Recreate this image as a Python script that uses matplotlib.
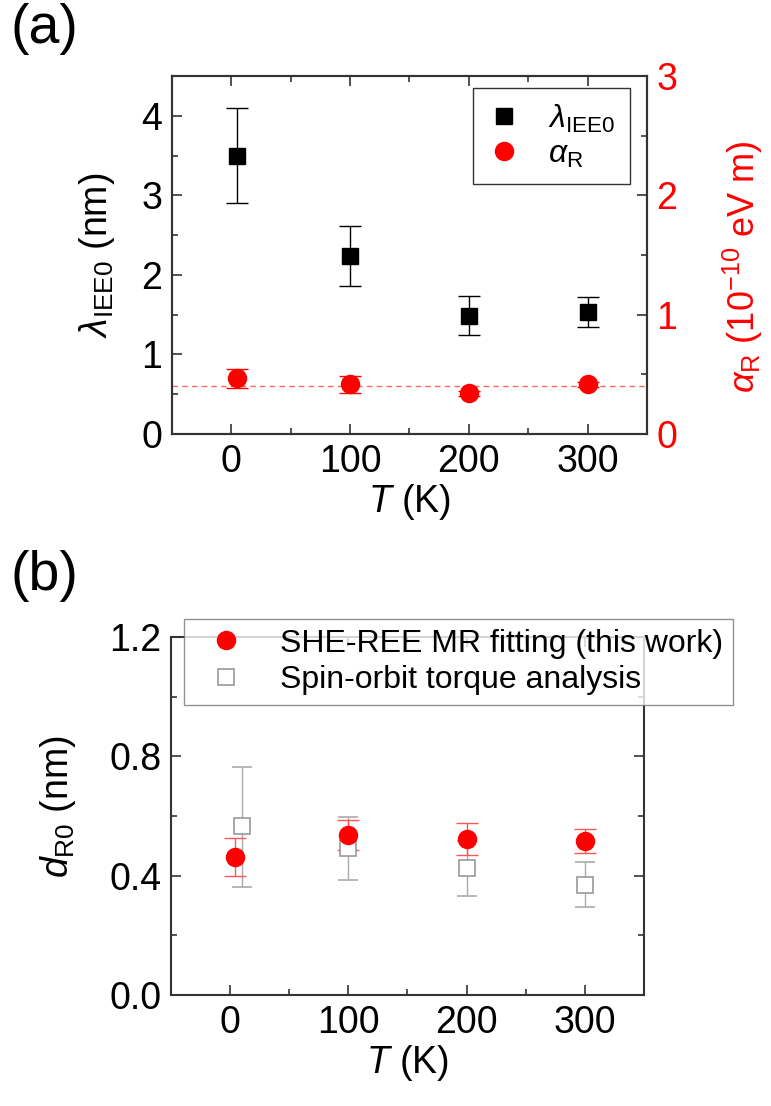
import numpy as np
import matplotlib
matplotlib.use("Agg")
import matplotlib.pyplot as plt
import matplotlib.ticker as mticker

plt.rcParams["font.family"] = ["Liberation Sans", "DejaVu Sans"]
plt.rcParams["mathtext.fontset"] = "custom"
plt.rcParams["mathtext.rm"] = "Liberation Sans"
plt.rcParams["mathtext.it"] = "Liberation Sans:italic"

# ---- panel (a) data ----
T_lam = [5, 100, 200, 300]
lam = [3.50, 2.24, 1.48, 1.53]
lam_err_hi = [0.60, 0.38, 0.25, 0.19]
lam_err_lo = [0.60, 0.38, 0.24, 0.19]
T_alpha = [5, 100, 200, 300]
alpha = [0.467, 0.417, 0.340, 0.417]
alpha_err = [0.08, 0.07, 0.02, 0.02]
alpha_mean = 0.405

# ---- panel (b) data ----
T_she = [4, 100, 200, 300]
d_she = [0.462, 0.535, 0.523, 0.517]
d_she_err = [0.063, 0.050, 0.053, 0.040]
T_sot = [10, 100, 200, 300]
d_sot = [0.565, 0.492, 0.425, 0.369]
d_sot_hi = [0.200, 0.104, 0.090, 0.075]
d_sot_lo = [0.202, 0.106, 0.092, 0.075]

FS = 27
frame = "#333333"
fig = plt.figure(figsize=(7.71, 11.06), dpi=100)


def style(ax, right=True):
    for s in ax.spines.values():
        s.set_color(frame)
        s.set_linewidth(1.5)
    ax.tick_params(which="both", direction="in", top=True, right=right,
                   labelsize=FS, color=frame, width=1.2, pad=7)
    ax.tick_params(which="major", length=7)
    ax.tick_params(which="minor", length=4)
    ax.set_xlim(-50, 350)
    ax.set_xticks([0, 100, 200, 300])
    ax.set_xticks([50, 150, 250], minor=True)


# ---- (a) ----
ax = fig.add_axes([0.223, 0.6076, 0.616, 0.3237])
style(ax, right=False)
ax.set_ylim(0, 4.5)
ax.set_yticks([0, 1, 2, 3, 4])
ax.set_yticks([0.5, 1.5, 2.5, 3.5], minor=True)
h1 = ax.errorbar(T_lam, lam, yerr=[lam_err_lo, lam_err_hi], fmt="s", color="black",
                 ms=11.5, capsize=8, elinewidth=1, capthick=1, ecolor="black")
ax.set_xlabel(r"$T$ (K)", fontsize=FS, labelpad=2)
ax.set_ylabel(r"$\lambda_{\mathrm{IEE0}}$ (nm)", fontsize=FS)
ax.yaxis.set_label_coords(-0.116, 0.5)

ax2 = ax.twinx()
ax2.set_ylim(0, 3)
ax2.set_yticks([0, 1, 2, 3])
ax2.set_yticks([0.5, 1.5, 2.5], minor=True)
ax2.tick_params(which="both", direction="in", labelsize=FS, colors="red",
                color=frame, width=1.2, pad=7)
ax2.tick_params(which="major", length=7)
ax2.tick_params(which="minor", length=4)
for s in ax2.spines.values():
    s.set_color(frame)
    s.set_linewidth(1.5)
ax2.axhline(alpha_mean, color="#ff6666", ls="--", lw=1, dashes=(4, 3))
h2 = ax2.errorbar(T_alpha, alpha, yerr=alpha_err, fmt="o", color="red", ms=13,
                  capsize=8, elinewidth=1, capthick=1, ecolor="red")
ax2.set_ylabel(r"$\alpha_{\mathrm{R}}$ (10$^{-10}$ eV m)", fontsize=26, color="red")
ax2.yaxis.set_label_coords(1.155, 0.466)
leg = ax2.legend([h1[0], h2[0]], [r"$\lambda_{\mathrm{IEE0}}$", r"$\alpha_{\mathrm{R}}$"],
                 loc="upper right", bbox_to_anchor=(0.964, 0.966), borderaxespad=0,
                 fontsize=23, frameon=True, fancybox=False, edgecolor="black",
                 handletextpad=0.9, borderpad=0.45, labelspacing=0.15,
                 handlelength=1.0)
leg.get_frame().set_linewidth(1)

# ---- (b) ----
bx = fig.add_axes([0.2218, 0.1004, 0.6133, 0.3237])
style(bx)
bx.set_ylim(0, 1.2)
bx.set_yticks([0.0, 0.4, 0.8, 1.2])
bx.set_yticks([0.2, 0.6, 1.0], minor=True)
bx.yaxis.set_major_formatter(mticker.FormatStrFormatter("%.1f"))
g1 = bx.errorbar(T_sot, d_sot, yerr=[d_sot_lo, d_sot_hi], fmt="s", mfc="white",
                 mec="#999999", color="#999999", ms=12, mew=1.2, capsize=7,
                 elinewidth=1, capthick=1, ecolor="#aaaaaa")
r1 = bx.errorbar(T_she, d_she, yerr=d_she_err, fmt="o", color="red", ms=13,
                 capsize=8, elinewidth=1, capthick=1, ecolor="#ff5555")
bx.set_xlabel(r"$T$ (K)", fontsize=FS, labelpad=2)
bx.set_ylabel(r"$d_{\mathrm{R0}}$ (nm)", fontsize=FS)
bx.yaxis.set_label_coords(-0.197, 0.525)
lb = fig.legend([r1[0], g1[0]], ["SHE-REE MR fitting (this work)", "Spin-orbit torque analysis"],
                loc="upper left", bbox_to_anchor=(0.2387, 0.4403), borderaxespad=0,
                fontsize=23, frameon=True, fancybox=False, edgecolor="#777777",
                handletextpad=0.7, borderpad=0.3, labelspacing=0.2, handlelength=2.0)
lb.get_frame().set_linewidth(1)

fig.text(0.013, 0.997, "(a)", fontsize=40, va="top")
fig.text(0.013, 0.503, "(b)", fontsize=40, va="top")

fig.savefig("out.png", dpi=100)
